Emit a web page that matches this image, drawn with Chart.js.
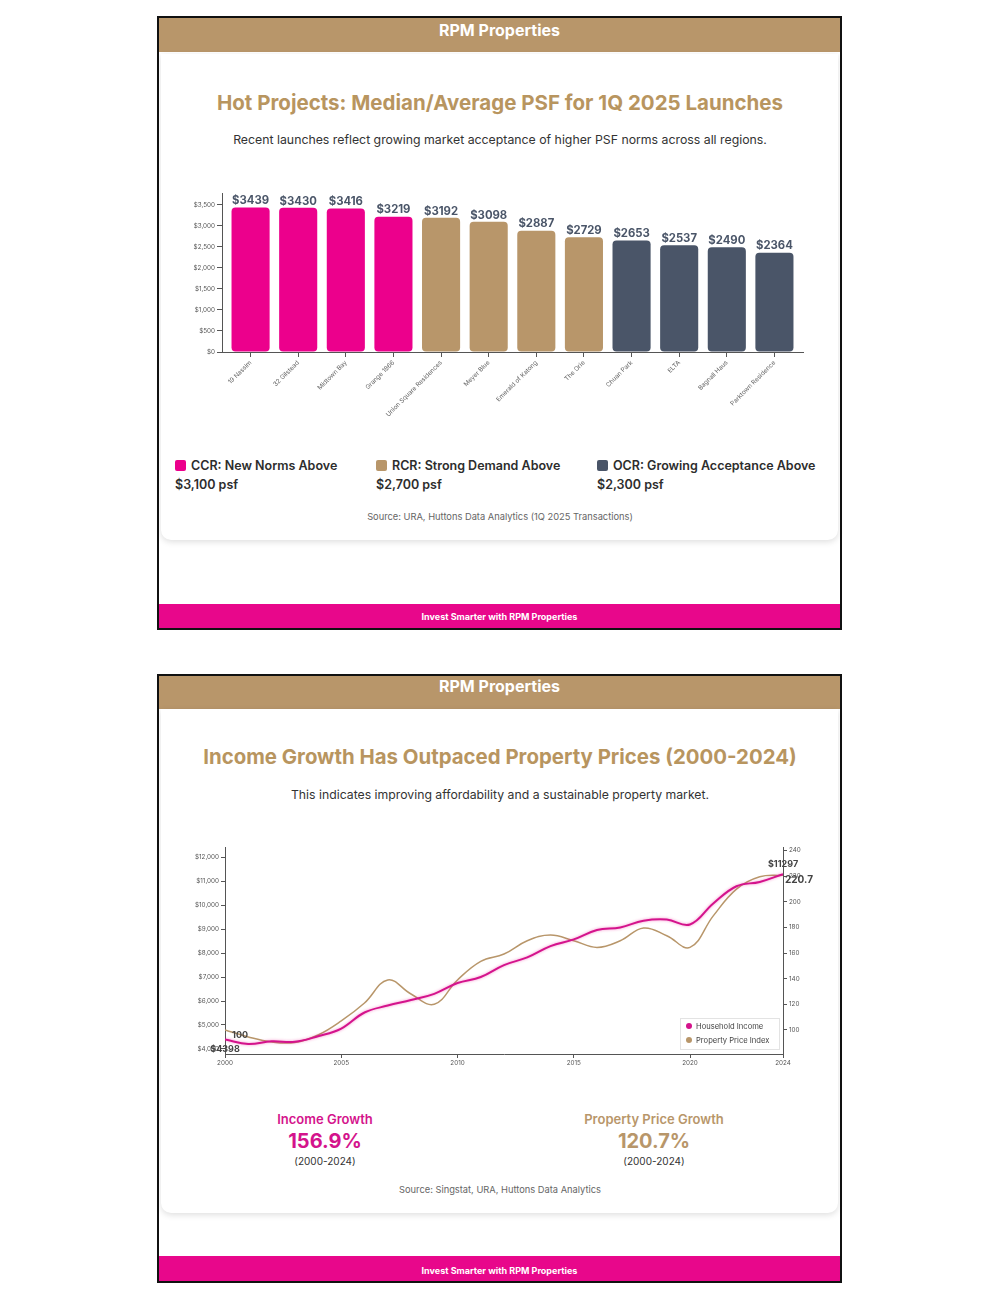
<!DOCTYPE html>
<html>
<head>
<meta charset="utf-8">
<script src="https://cdn.jsdelivr.net/npm/chart.js@4.4.1/dist/chart.umd.min.js"></script>
<style>
  html,body{margin:0;padding:0;background:#fff;font-family:Inter,"Noto Sans",sans-serif;}
  body{width:1000px;height:1300px;position:relative;overflow:hidden;}
  .abs{position:absolute;}
  .panel{position:absolute;left:157px;width:681px;border:2px solid #111;background:#fff;}
  .hdr{position:absolute;left:0;right:0;top:0;background:#B8966A;color:#fff;font-weight:700;font-size:16px;text-align:center;}
  .ftr{position:absolute;left:0;right:0;background:#E8078B;color:#fff;font-weight:700;font-size:9px;text-align:center;}
  .card{position:absolute;background:#fff;border-radius:0 0 10px 10px;box-shadow:0 2px 6px rgba(0,0,0,0.13);}
  .ctext{position:absolute;left:0;width:1000px;text-align:center;line-height:1;white-space:nowrap;}
  .leg{position:absolute;font-weight:600;font-size:12.5px;color:#2d2d2d;line-height:19px;white-space:nowrap;}
  .sw{display:inline-block;width:11px;height:11px;border-radius:2px;margin-right:5px;vertical-align:-1px;}
  .ll{position:absolute;left:680px;top:1018px;width:98px;height:30px;border:1px solid #e3e3e3;background:rgba(255,255,255,0.92);font-size:7.6px;color:#444;}
  .ll div{position:absolute;left:5px;white-space:nowrap;line-height:1;}
  .dot{display:inline-block;width:6px;height:6px;border-radius:50%;margin-right:4px;vertical-align:0px;}
</style>
</head>
<body>
<!-- Panel 1 -->
<div class="panel" style="top:16px;height:610px;">
  <div class="hdr" style="height:34px;line-height:25px;">RPM Properties</div>
  <div class="card" style="left:2px;right:2px;top:36px;height:486px;"></div>
  <div class="ftr" style="top:586px;height:24px;line-height:26px;">Invest Smarter with RPM Properties</div>
</div>
<div class="ctext" style="top:93px;font-size:20.5px;font-weight:700;color:#B8955F;">Hot Projects: Median/Average PSF for 1Q 2025 Launches</div>
<div class="ctext" style="top:134px;font-size:12.3px;color:#333;">Recent launches reflect growing market acceptance of higher PSF norms across all regions.</div>
<canvas id="bar" class="abs" style="left:185px;top:185px;" width="630" height="250"></canvas>
<div class="leg" style="left:175px;top:456px;"><span class="sw" style="background:#EC008C"></span>CCR: New Norms Above<br>$3,100 psf</div>
<div class="leg" style="left:376px;top:456px;"><span class="sw" style="background:#B8966A"></span>RCR: Strong Demand Above<br>$2,700 psf</div>
<div class="leg" style="left:597px;top:456px;"><span class="sw" style="background:#4A5568"></span>OCR: Growing Acceptance Above<br>$2,300 psf</div>
<div class="ctext" style="top:512px;font-size:9.3px;color:#666;">Source: URA, Huttons Data Analytics (1Q 2025 Transactions)</div>

<!-- Panel 2 -->
<div class="panel" style="top:674px;height:605px;">
  <div class="hdr" style="height:33px;line-height:21px;">RPM Properties</div>
  <div class="card" style="left:2px;right:2px;top:33px;height:504px;"></div>
  <div class="ftr" style="top:580px;height:25px;line-height:29px;">Invest Smarter with RPM Properties</div>
</div>
<div class="ctext" style="top:747px;font-size:20.4px;font-weight:700;color:#B8955F;">Income Growth Has Outpaced Property Prices (2000-2024)</div>
<div class="ctext" style="top:789px;font-size:12.25px;color:#333;">This indicates improving affordability and a sustainable property market.</div>
<canvas id="line" class="abs" style="left:170px;top:835px;" width="660" height="240"></canvas>
<div class="ll">
  <div style="top:4px;"><span class="dot" style="background:#D4138C"></span>Household Income</div>
  <div style="top:18px;"><span class="dot" style="background:#B8966A"></span>Property Price Index</div>
</div>
<div class="abs" style="left:225px;width:200px;top:1113px;text-align:center;line-height:1;">
  <div style="font-size:13px;font-weight:600;color:#D4138C;">Income Growth</div>
  <div style="font-size:20px;font-weight:700;color:#D4138C;margin-top:5px;">156.9%</div>
  <div style="font-size:10px;color:#333;margin-top:5px;">(2000-2024)</div>
</div>
<div class="abs" style="left:554px;width:200px;top:1113px;text-align:center;line-height:1;">
  <div style="font-size:13px;font-weight:600;color:#B8966A;">Property Price Growth</div>
  <div style="font-size:20px;font-weight:700;color:#B8966A;margin-top:5px;">120.7%</div>
  <div style="font-size:10px;color:#333;margin-top:5px;">(2000-2024)</div>
</div>
<div class="ctext" style="top:1185px;font-size:9.3px;color:#666;">Source: Singstat, URA, Huttons Data Analytics</div>

<script>
// ---------- Data ----------
const projects = ['19 Nassim','32 Gilstead','Midtown Bay','Grange 1866','Union Square Residences','Meyer Blue','Emerald of Katong','The Orie','Chuan Park','ELTA','Bagnall Haus','Parktown Residence'];
const psfValues = [3439,3430,3416,3219,3192,3098,2887,2729,2653,2537,2490,2364];
const regions = ['CCR','CCR','CCR','CCR','RCR','RCR','RCR','RCR','OCR','OCR','OCR','OCR'];
const psfTicks = [0,500,1000,1500,2000,2500,3000,3500];

const years = [2000,2001,2002,2003,2004,2005,2006,2007,2008,2009,2010,2011,2012,2013,2014,2015,2016,2017,2018,2019,2020,2021,2022,2023,2024];
const income = [4398,4210,4320,4300,4530,4850,5520,5810,6040,6300,6750,7000,7500,7820,8290,8570,8960,9070,9350,9400,9195,10070,10790,10970,11297];
const priceIndex = [100,94.5,90.6,90.2,96,107,121,139,128,120,139,153.5,159.2,169.6,174,169.6,164.4,169.6,179.5,173.5,164.4,189,209.9,219.5,220.7];
const yearTicks = [2000,2005,2010,2015,2020,2024];
const incomeTicks = [4000,5000,6000,7000,8000,9000,10000,11000,12000];
const priceTicks = [100,120,140,160,180,200,220,240];

const regionColors = {CCR:'#EC008C', RCR:'#B8966A', OCR:'#4A5568'};
const FONT = 'Inter, "Noto Sans", sans-serif';

// ---------- Bar chart ----------
const barLabels = {
  id:'barLabels',
  afterDatasetsDraw(chart){
    const ctx = chart.ctx;
    const meta = chart.getDatasetMeta(0);
    ctx.save();
    ctx.font = '700 11.3px ' + FONT;
    ctx.fillStyle = '#4A5568';
    ctx.textAlign = 'center';
    ctx.textBaseline = 'bottom';
    meta.data.forEach((el,i)=>{
      ctx.fillText('$' + psfValues[i], el.x, el.y - 1);
    });
    ctx.restore();
  }
};

const projIdx = projects.map((p,i)=>i);
new Chart(document.getElementById('bar'), {
  type:'bar',
  data:{
    datasets:[{
      data: projIdx.map(i=>({x:i, y:psfValues[i]})),
      backgroundColor: regions.map(r=>regionColors[r]),
      borderRadius: 4,
      borderSkipped: false,
      barPercentage: 0.8,
      categoryPercentage: 1.0
    }]
  },
  options:{
    responsive:false,
    animation:false,
    layout:{padding:{top:8,right:12,left:0,bottom:0}},
    plugins:{legend:{display:false},tooltip:{enabled:false}},
    scales:{
      x:{
        type:'linear', offset:false, min:-0.6, max:projects.length - 0.4,
        afterBuildTicks(s){ s.ticks = projIdx.map(v=>({value:v})); },
        grid:{display:true,drawOnChartArea:false,drawTicks:true,tickLength:5,color:'#555',offset:false},
        border:{display:true,color:'#555',width:1},
        ticks:{minRotation:45,maxRotation:45,autoSkip:false,font:{size:6.3,family:FONT},color:'#666',padding:2,callback:v=>projects[v]},
        afterFit(s){ s.height = 83; }
      },
      y:{
        min:0,
        max: Math.max(...psfValues)*1.1,
        afterBuildTicks(s){ s.ticks = psfTicks.map(v=>({value:v})); },
        grid:{display:true,drawOnChartArea:false,drawTicks:true,tickLength:5,color:'#555'},
        border:{display:true,color:'#555',width:1},
        ticks:{font:{size:6.3,family:FONT},color:'#555',padding:2,callback:v=>'$'+Number(v).toLocaleString('en-US')},
        afterFit(s){ s.width = 37; }
      }
    }
  },
  plugins:[barLabels]
});

// ---------- Line chart ----------
const incColor = '#D4138C';
const priceColor = '#B8966A';
const lineLabels = {
  id:'lineLabels',
  beforeDatasetDraw(chart, args){
    if(args.index === 0){
      chart.ctx.save();
      chart.ctx.shadowColor = 'rgba(236,0,140,0.45)';
      chart.ctx.shadowBlur = 3;
    }
  },
  afterDatasetDraw(chart, args){
    if(args.index === 0){ chart.ctx.restore(); }
  },
  afterDatasetsDraw(chart){
    const ctx = chart.ctx;
    const mi = chart.getDatasetMeta(0).data;
    const mp = chart.getDatasetMeta(1).data;
    const n = mi.length - 1;
    ctx.save();
    ctx.fillStyle = '#444';
    ctx.textBaseline = 'middle';
    ctx.font = '700 9px ' + FONT;
    ctx.textAlign = 'center';
    ctx.fillText('$' + income[0], mi[0].x, mi[0].y + 10);
    ctx.fillText('$' + income[n], mi[n].x, mi[n].y - 10);
    ctx.textAlign = 'left';
    ctx.fillText(String(priceIndex[0]), mp[0].x + 7, mp[0].y + 5);
    ctx.font = '700 10px ' + FONT;
    ctx.fillText(String(priceIndex[n]), mp[n].x + 2, mp[n].y + 5);
    ctx.restore();
  }
};

new Chart(document.getElementById('line'), {
  type:'line',
  data:{
    datasets:[
      {label:'Household Income', data: years.map((y,i)=>({x:y,y:income[i]})), yAxisID:'yL',
       borderColor:incColor, borderWidth:2, pointRadius:0, tension:0.4, fill:false},
      {label:'Property Price Index', data: years.map((y,i)=>({x:y,y:priceIndex[i]})), yAxisID:'yR',
       borderColor:priceColor, borderWidth:1.5, pointRadius:0, tension:0.4, fill:false}
    ]
  },
  options:{
    responsive:false,
    animation:false,
    layout:{padding:{top:12,right:0,left:0,bottom:0}},
    plugins:{legend:{display:false},tooltip:{enabled:false}},
    scales:{
      x:{
        type:'linear', min:2000, max:2024,
        afterBuildTicks(s){ s.ticks = yearTicks.map(v=>({value:v})); },
        grid:{display:true,drawOnChartArea:false,drawTicks:true,tickLength:4,color:'#555'},
        border:{display:true,color:'#555',width:1},
        ticks:{font:{size:6.3,family:FONT},color:'#555',padding:1,maxRotation:0,callback:v=>String(v)},
        afterFit(s){ s.height = 21; }
      },
      yL:{
        position:'left',
        min: Math.min(...income)*0.9,
        max: Math.max(...income)*1.1,
        afterBuildTicks(s){ s.ticks = incomeTicks.map(v=>({value:v})); },
        grid:{display:true,drawOnChartArea:false,drawTicks:true,tickLength:4,color:'#555'},
        border:{display:true,color:'#555',width:1},
        ticks:{font:{size:6.3,family:FONT},color:'#555',padding:2,callback:v=>'$'+Number(v).toLocaleString('en-US')},
        afterFit(s){ s.width = 55; }
      },
      yR:{
        position:'right',
        min: Math.min(...priceIndex)*0.9,
        max: Math.max(...priceIndex)*1.1,
        afterBuildTicks(s){ s.ticks = priceTicks.map(v=>({value:v})); },
        grid:{display:true,drawOnChartArea:false,drawTicks:true,tickLength:4,color:'#555'},
        border:{display:true,color:'#555',width:1},
        ticks:{font:{size:6.3,family:FONT},color:'#555',padding:2},
        afterFit(s){ s.width = 47; }
      }
    }
  },
  plugins:[lineLabels]
});
</script>
</body>
</html>
